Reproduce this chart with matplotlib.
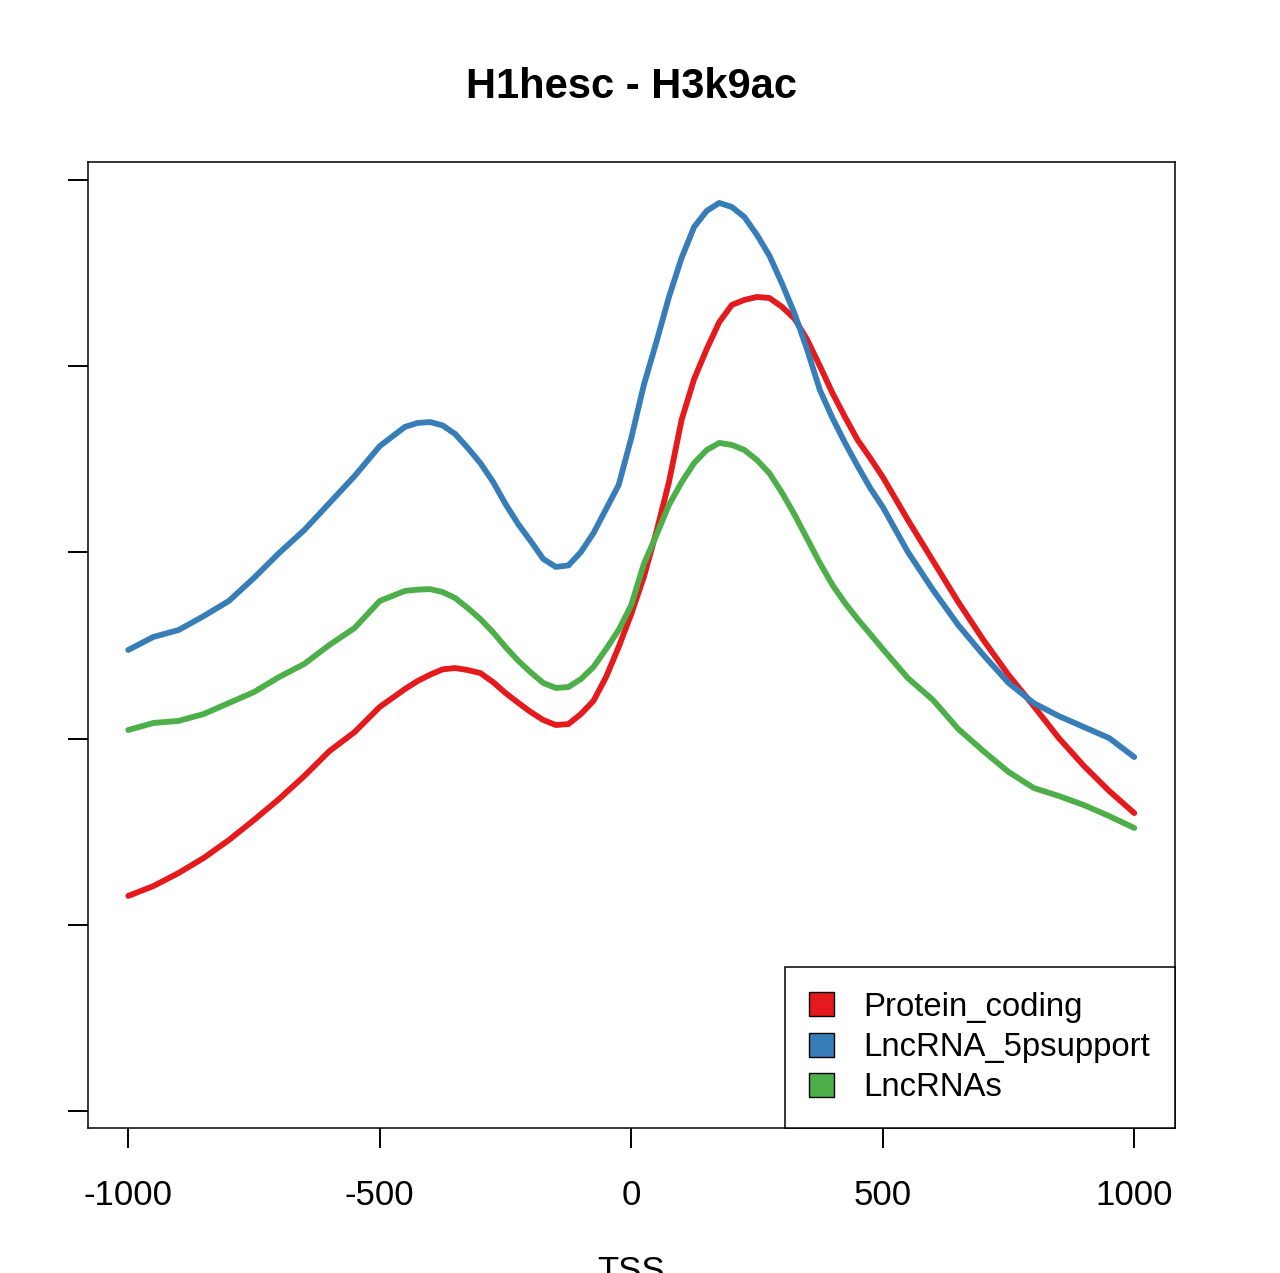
import matplotlib
matplotlib.use('Agg')
from matplotlib import pyplot as plt
from matplotlib.patches import Patch

plt.rcParams['font.family'] = ['Liberation Sans', 'DejaVu Sans']

# distance from TSS (finer steps around the peaks)
pos = [-1000, -950, -900, -850, -800, -750, -700, -650, -600, -550, -500,
       -450, -425, -400, -375, -350, -325, -300, -275, -250, -225,
       -200, -175, -150, -125, -100, -75, -50, -25, 0, 25,
       50, 75, 100, 125, 150, 175, 200, 225, 250, 275,
       300, 325, 350, 375, 400, 425, 450, 475, 500,
       550, 600, 650, 700, 750, 800, 850, 900, 950, 1000]

protein_coding = [1.155, 1.208, 1.278, 1.359, 1.455, 1.563, 1.676, 1.799, 1.933, 2.035, 2.170,
                  2.266, 2.309, 2.343, 2.372, 2.379, 2.368, 2.352, 2.304, 2.245, 2.193,
                  2.143, 2.100, 2.073, 2.078, 2.132, 2.203, 2.331, 2.492, 2.669, 2.868,
                  3.110, 3.378, 3.711, 3.931, 4.092, 4.237, 4.329, 4.356, 4.372, 4.366,
                  4.318, 4.254, 4.141, 4.001, 3.856, 3.727, 3.604, 3.507, 3.405,
                  3.174, 2.954, 2.734, 2.530, 2.342, 2.175, 2.003, 1.853, 1.719, 1.600]

lnc_5p = [2.476, 2.546, 2.583, 2.658, 2.739, 2.863, 2.997, 3.120, 3.265, 3.410, 3.571,
          3.674, 3.695, 3.700, 3.682, 3.636, 3.561, 3.480, 3.380, 3.260, 3.153,
          3.061, 2.965, 2.922, 2.930, 3.002, 3.104, 3.233, 3.362, 3.614, 3.899,
          4.130, 4.372, 4.581, 4.748, 4.834, 4.877, 4.855, 4.801, 4.705, 4.592,
          4.442, 4.280, 4.087, 3.872, 3.722, 3.588, 3.464, 3.346, 3.244,
          3.002, 2.798, 2.610, 2.449, 2.299, 2.191, 2.121, 2.062, 2.003, 1.901]

lncrnas = [2.046, 2.084, 2.095, 2.132, 2.191, 2.250, 2.331, 2.401, 2.503, 2.594, 2.739,
           2.793, 2.800, 2.803, 2.787, 2.755, 2.701, 2.642, 2.572, 2.492, 2.419,
           2.356, 2.299, 2.272, 2.277, 2.320, 2.385, 2.481, 2.583, 2.717, 2.938,
           3.093, 3.255, 3.376, 3.480, 3.550, 3.588, 3.577, 3.550, 3.496, 3.424,
           3.319, 3.201, 3.072, 2.943, 2.825, 2.728, 2.642, 2.562, 2.481,
           2.325, 2.207, 2.052, 1.933, 1.821, 1.735, 1.692, 1.643, 1.584, 1.520]

labels = ['Protein_coding', 'LncRNA_5psupport', 'LncRNAs']
colors = ['#E41A1C', '#377EB8', '#4DAF4A']

fig = plt.figure(figsize=(12.8, 12.73), dpi=100)
ax = fig.add_axes([88 / 1280, 1 - 1128 / 1273, (1175 - 88) / 1280, (1128 - 162) / 1273])

for ys, c in zip([protein_coding, lnc_5p, lncrnas], colors):
    ax.plot(pos, ys, color=c, lw=4.2, solid_capstyle='round', solid_joinstyle='round')

ax.set_xlim(-1080, 1081)
ax.set_ylim(-0.0913, 5.0967)
ax.set_xticks([-1000, -500, 0, 500, 1000])
ax.set_xticklabels(['-1000', '-500', '0', '500', '1000'])
ax.set_yticks([0, 1, 2, 3, 4, 5])
ax.set_yticklabels([])
ax.tick_params(direction='out', length=14.5, width=1.4, labelsize=25, pad=22)
for s in ax.spines.values():
    s.set_linewidth(1.1)

ax.set_title('H1hesc - H3k9ac', fontsize=30, fontweight='bold', pad=46)
ax.set_xlabel('TSS', fontsize=25)
ax.xaxis.set_label_coords(0.5, -0.131)

handles = [Patch(facecolor=c, edgecolor='black', linewidth=1.0) for c in colors]
leg = ax.legend(handles, labels, loc='lower right', bbox_to_anchor=(1, 0),
                borderaxespad=0, fontsize=23.7, fancybox=False, framealpha=1,
                edgecolor='black', handlelength=0.75, handleheight=0.75,
                handletextpad=0.9, labelspacing=0.28, borderpad=0.75)
leg.get_frame().set_linewidth(1.1)

fig.savefig('out.png', dpi=100)
